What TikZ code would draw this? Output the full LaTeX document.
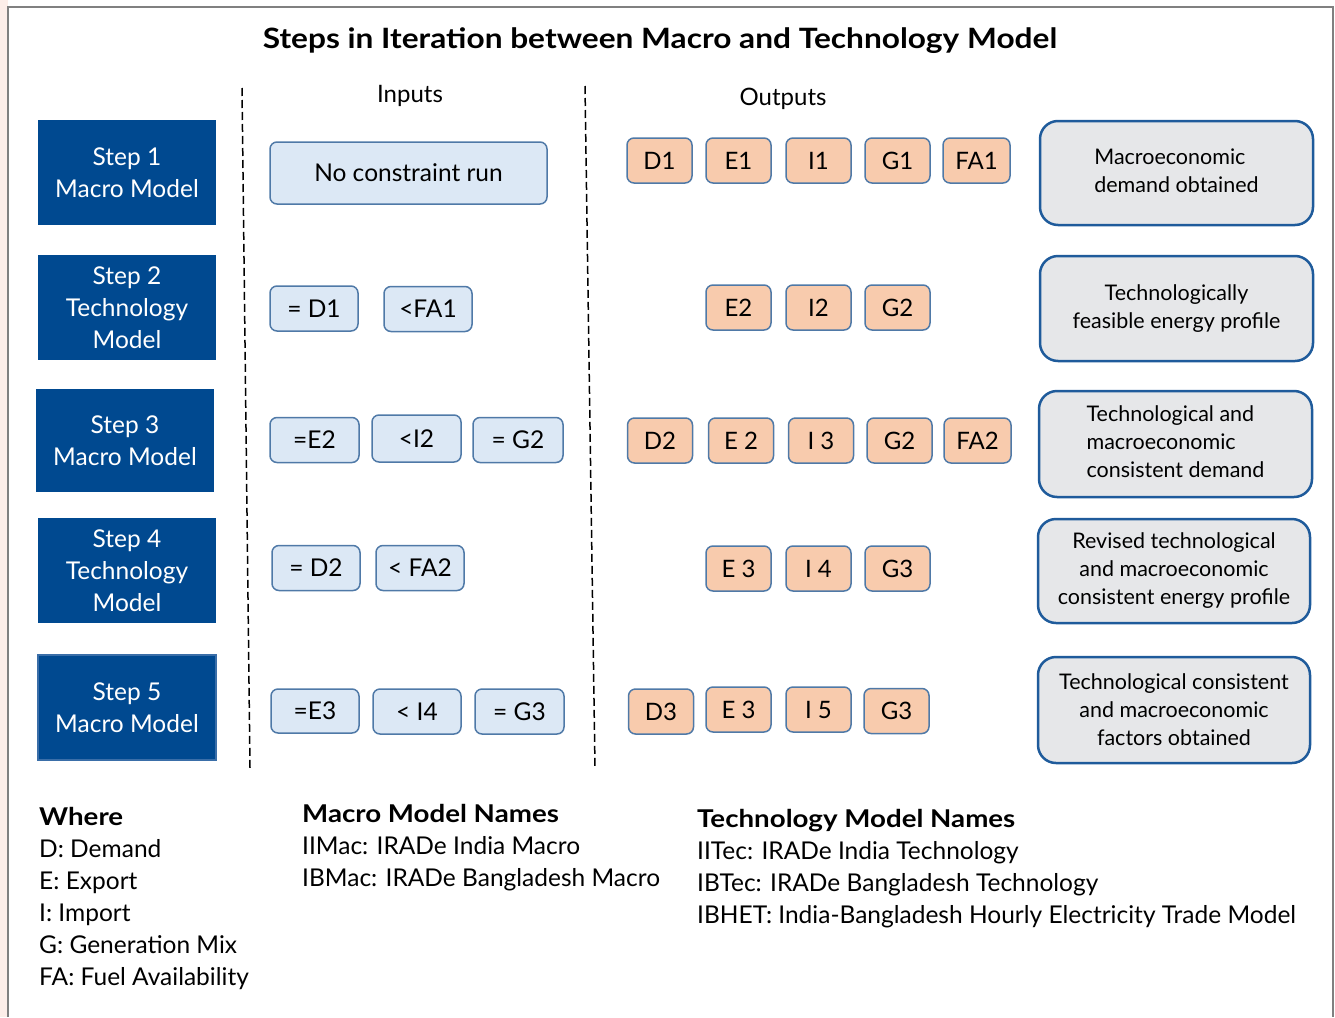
\documentclass[tikz,border=0pt]{standalone}
\usepackage{fontspec}
\setmainfont{Lato}
\definecolor{stepblue}{RGB}{0,73,144}
\definecolor{stepedge}{RGB}{58,110,168}
\definecolor{infill}{RGB}{220,232,245}
\definecolor{boxedge}{RGB}{79,121,167}
\definecolor{peach}{RGB}{248,203,173}
\definecolor{notefill}{RGB}{230,231,233}
\definecolor{noteedge}{RGB}{31,91,155}
\definecolor{framegray}{RGB}{128,128,128}
\definecolor{marginpink}{RGB}{253,238,233}
\newfontfamily\widebold[FakeStretch=1.13]{Lato Bold}
\tikzset{
  stepbox/.style={fill=stepblue, text=white, inner sep=0pt, align=center,
    minimum width=178pt, minimum height=105pt, font=\fontsize{24.5}{32}\selectfont},
  inbox/.style={fill=infill, draw=boxedge, line width=1.5pt, rounded corners=7pt,
    inner sep=0pt, minimum width=88pt, minimum height=45pt, font=\fontsize{24.5}{28}\selectfont},
  outbox/.style={fill=peach, draw=boxedge, line width=1.5pt, rounded corners=7pt,
    inner sep=0pt, minimum width=65pt, minimum height=45pt, font=\fontsize{24}{28}\selectfont},
  notebox/.style={fill=notefill, draw=noteedge, line width=2.5pt, rounded corners=18pt,
    inner sep=0pt, minimum width=273pt, minimum height=105pt, font=\fontsize{21.5}{28}\selectfont},
  divider/.style={draw=black, line width=1.5pt, dash pattern=on 8pt off 4pt},
  head/.style={font=\fontsize{24}{28}\selectfont},
  legend/.style={anchor=base west, inner sep=0pt, font=\fontsize{24.5}{32}\selectfont},
  legendhead/.style={legend, font=\fontsize{24.5}{32}\widebold},
}
\begin{document}
\begin{tikzpicture}[x=1pt, y=-1pt]
\useasboundingbox (0,0) rectangle (1335,1017);
% page margin and frame
\fill[marginpink] (0,0) rectangle (8,1017);
\draw[framegray, line width=2pt] (8,1017) -- (8,7) -- (1333,7) -- (1333,1017);

% title
\node[font=\fontsize{28}{32}\widebold] (title) at (660,41) {Steps in Iteration between Macro and Technology Model};

% column dividers
\coordinate (d1a) at (242,88);  \coordinate (d1b) at (250,768);
\coordinate (d2a) at (585,86);  \coordinate (d2b) at (595,768);
\draw[divider] (d1a) -- (d1b);
\draw[divider] (d2a) -- (d2b);

\node[head] (inputs) at (410,96) {Inputs};
\node[head] (outputs) at (783,99) {Outputs};

% steps
\node[stepbox] (s1) at (127,172.5) {Step 1\\Macro Model};
\node[stepbox] (s2) at (127,307.5) {Step 2\\Technology\\Model};
\node[stepbox, minimum height=103pt] (s3) at (125,440.5) {Step 3\\Macro Model};
\node[stepbox] (s4) at (127,570.5) {Step 4\\Technology\\Model};
\node[stepbox, draw=stepedge, line width=1.5pt] (s5) at (127,707.5) {Step 5\\Macro Model};

% inputs
\node[inbox, minimum width=277pt, minimum height=62pt] (in1) at (408.5,173) {No constraint run};
\node[inbox] (in2a) at (314,308.5) {= D1};
\node[inbox] (in2b) at (428,309) {<FA1};
\node[inbox, minimum width=89pt] (in3a) at (314.5,440) {=E2};
\node[inbox, minimum width=89pt, minimum height=47pt] (in3b) at (416.5,438.5) {<I2};
\node[inbox, minimum width=90pt] (in3c) at (518,440) {= G2};
\node[inbox] (in4a) at (316,568) {= D2};
\node[inbox] (in4b) at (420,568) {< FA2};
\node[inbox, minimum height=44pt] (in5a) at (315,711) {=E3};
\node[inbox] (in5b) at (417,711.5) {< I4};
\node[inbox, minimum width=89pt] (in5c) at (519.5,711.5) {= G3};

% outputs
\node[outbox] (o1a) at (659.5,160.5) {D1};
\node[outbox] (o1b) at (738.5,160.5) {E1};
\node[outbox] (o1c) at (818.5,160.5) {I1};
\node[outbox] (o1d) at (897.5,160.5) {G1};
\node[outbox, minimum width=67pt] (o1e) at (976.5,160.5) {FA1};

\node[outbox] (o2a) at (738.5,307.5) {E2};
\node[outbox] (o2b) at (818.5,307.5) {I2};
\node[outbox] (o2c) at (897.5,307.5) {G2};

\node[outbox] (o3a) at (660,440.5) {D2};
\node[outbox] (o3b) at (741,440.5) {E 2};
\node[outbox] (o3c) at (821,440.5) {I 3};
\node[outbox] (o3d) at (899.5,440.5) {G2};
\node[outbox, minimum width=67pt] (o3e) at (977.5,440.5) {FA2};

\node[outbox] (o4a) at (738.5,568.5) {E 3};
\node[outbox] (o4b) at (818.5,568.5) {I 4};
\node[outbox] (o4c) at (897.5,568.5) {G3};

\node[outbox] (o5a) at (661,711.5) {D3};
\node[outbox] (o5b) at (738.5,709.5) {E 3};
\node[outbox] (o5c) at (818.5,709.5) {I 5};
\node[outbox] (o5d) at (896.5,711) {G3};

% results of each step
\node[notebox, minimum height=104pt] (r1) at (1176.5,173) {\begin{tabular}{@{}l@{}}Macroeconomic\\demand obtained\end{tabular}};
\node[notebox, align=center] (r2) at (1176.5,308.5) {Technologically\\feasible energy profile};
\node[notebox, minimum height=106pt] (r3) at (1175.5,444) {\begin{tabular}{@{}l@{}}Technological and\\macroeconomic\\consistent demand\end{tabular}};
\node[notebox, align=center, minimum width=272pt, minimum height=104pt] (r4) at (1174,571) {Revised technological\\and macroeconomic\\consistent energy profile};
\node[notebox, align=center, minimum width=272pt, minimum height=106pt] (r5) at (1174,710) {Technological consistent\\and macroeconomic\\factors obtained};

% legends
\node[legendhead] (wh) at (39,825) {Where};
\node[legend] (l1) at (39,857) {D: Demand};
\node[legend] (l2) at (39,889) {E: Export};
\node[legend] (l3) at (39,921) {I: Import};
\node[legend] (l4) at (39,953) {G: Generation Mix};
\node[legend] (l5) at (39,985) {FA: Fuel Availability};

\node[legendhead] (mh) at (302,822) {Macro Model Names};
\node[legend] (m1) at (302,854) {IIMac: IRADe India Macro};
\node[legend] (m2) at (302,886) {IBMac: IRADe Bangladesh Macro};

\node[legendhead] (th) at (697,827) {Technology Model Names};
\node[legend] (t1) at (697,859) {IITec: IRADe India Technology};
\node[legend] (t2) at (697,891) {IBTec: IRADe Bangladesh Technology};
\node[legend] (t3) at (697,923) {IBHET: India-Bangladesh Hourly Electricity Trade Model};
\end{tikzpicture}
\end{document}
